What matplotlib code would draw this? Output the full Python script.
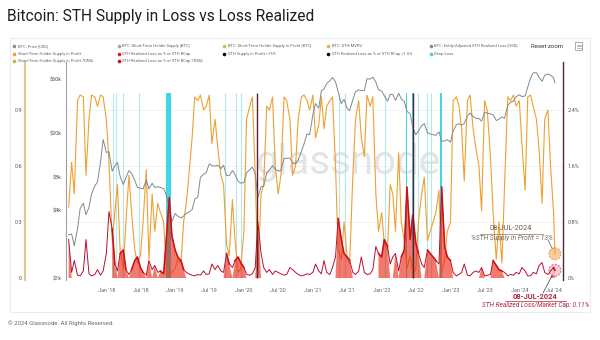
import matplotlib
matplotlib.use('Agg')
import matplotlib.pyplot as plt
import matplotlib.dates as mdates
import matplotlib.transforms as mtransforms
from matplotlib.patches import Circle, Rectangle
from matplotlib.lines import Line2D
import numpy as np
import pandas as pd

plt.rcParams['font.family'] = ['Roboto', 'DejaVu Sans']

# semi-monthly samples (1st / 15th), Jun 2017 -> Jul 2024, plus the 8 Jul 2024 reading
dates = list(pd.date_range('2017-06-15', '2024-07-01', freq='SMS')) + [pd.Timestamp('2024-07-08')]

price_usd = [
    2450, 2480, 1950, 2750, 4200, 4700, 3700, 4300, 5700, 6700, 7300, 10900, 17500,
    13400, 13600, 9100, 10100, 10900, 8200, 6900, 8000, 9200, 8700, 7500, 6500,
    6400, 6300, 7600, 6300, 7100, 6500, 6600, 6500, 6350, 5600, 4200, 3200,
    3800, 3600, 3450, 3600, 3800, 3900, 4100, 5100, 5300, 8000, 8550, 8800,
    10600, 10200, 10100, 10300, 9600, 10300, 8300, 8300, 9200, 8500, 7400, 7100,
    7200, 8800, 9400, 9900, 8600, 5300, 6600, 6650, 8800, 9300, 10200, 9450,
    9150, 9200, 11800, 11900, 11900, 10800, 10600, 11500, 13700, 16000, 19700, 19300,
    29400, 36800, 33500, 48000, 49600, 55900, 59000, 63200, 57800, 46800, 36700, 40200,
    33500, 31800, 39900, 47000, 48800, 48100, 48200, 61500, 61000, 63600, 57200, 48900,
    47700, 43100, 38700, 44500, 44400, 39300, 45500, 40500, 38500, 31300, 29800, 22500,
    19300, 20800, 23300, 24300, 20100, 19700, 19300, 19100, 20500, 16900, 17000, 17400,
    16600, 20900, 23700, 24300, 23600, 24400, 28500, 30300, 28100, 27200, 27000, 25600,
    30600, 30300, 29700, 29200, 25900, 26600, 27900, 27100, 35400, 37900, 38700, 42300,
    44200, 42500, 43100, 51900, 62400, 69400, 69600, 63400, 58300, 66200, 67800, 66200,
    62700, 56700,
]

sth_supply_in_profit = [
    0.38, 0.62, 0.45, 0.95, 0.98, 0.97, 0.55, 0.85, 0.98, 0.97, 0.92, 0.98, 0.97,
    0.85, 0.62, 0.20, 0.35, 0.50, 0.15, 0.05, 0.30, 0.55, 0.35, 0.15, 0.08,
    0.12, 0.30, 0.58, 0.10, 0.45, 0.25, 0.40, 0.35, 0.30, 0.05, 0.02, 0.03,
    0.05, 0.10, 0.08, 0.30, 0.40, 0.55, 0.75, 0.97, 0.95, 0.98, 0.90, 0.92,
    0.98, 0.72, 0.85, 0.70, 0.55, 0.50, 0.18, 0.12, 0.42, 0.20, 0.03, 0.05,
    0.25, 0.85, 0.92, 0.97, 0.55, 0.02, 0.45, 0.50, 0.92, 0.90, 0.97, 0.60,
    0.45, 0.55, 0.97, 0.95, 0.85, 0.55, 0.60, 0.85, 0.97, 0.98, 0.95, 0.90,
    0.98, 0.75, 0.82, 0.97, 0.80, 0.92, 0.95, 0.97, 0.60, 0.15, 0.10, 0.30,
    0.12, 0.08, 0.55, 0.85, 0.95, 0.75, 0.65, 0.98, 0.92, 0.97, 0.45, 0.25,
    0.35, 0.18, 0.15, 0.50, 0.45, 0.25, 0.67, 0.30, 0.20, 0.05, 0.12, 0.02,
    0.05, 0.30, 0.45, 0.54, 0.20, 0.25, 0.30, 0.35, 0.47, 0.03, 0.10, 0.25,
    0.30, 0.95, 0.97, 0.92, 0.80, 0.52, 0.95, 0.98, 0.80, 0.70, 0.60, 0.36,
    0.95, 0.90, 0.65, 0.35, 0.10, 0.30, 0.08, 0.50, 0.97, 0.95, 0.98, 0.92,
    0.95, 0.72, 0.47, 0.97, 0.98, 0.92, 0.85, 0.69, 0.40, 0.85, 0.90, 0.60,
    0.35, 0.13,
]

sth_realized_loss_pct = [
    0.55, 0.08, 0.25, 0.04, 0.03, 0.10, 0.55, 0.06, 0.03, 0.05, 0.12, 0.04, 0.10,
    0.35, 0.95, 0.70, 0.20, 0.10, 0.35, 0.40, 0.12, 0.05, 0.12, 0.25, 0.30,
    0.15, 0.08, 0.04, 0.25, 0.12, 0.18, 0.08, 0.10, 0.06, 0.55, 1.15, 0.60,
    0.40, 0.30, 0.25, 0.12, 0.08, 0.06, 0.04, 0.03, 0.05, 0.04, 0.10, 0.05,
    0.06, 0.20, 0.12, 0.18, 0.10, 0.08, 0.35, 0.20, 0.15, 0.25, 0.30, 0.22,
    0.15, 0.05, 0.04, 0.06, 0.15, 0.80, 0.35, 0.15, 0.08, 0.12, 0.05, 0.10,
    0.08, 0.06, 0.04, 0.05, 0.15, 0.12, 0.08, 0.05, 0.03, 0.04, 0.06, 0.05,
    0.08, 0.20, 0.10, 0.06, 0.25, 0.08, 0.05, 0.15, 0.30, 0.85, 0.55, 0.35,
    0.30, 0.25, 0.08, 0.05, 0.10, 0.30, 0.08, 0.05, 0.06, 0.12, 0.45, 0.35,
    0.30, 0.55, 0.45, 0.20, 0.30, 0.35, 0.10, 0.30, 0.40, 1.30, 0.55, 0.90,
    0.50, 0.35, 0.20, 0.15, 0.40, 0.35, 0.30, 0.25, 0.20, 1.30, 0.45, 0.30,
    0.25, 0.08, 0.03, 0.05, 0.08, 0.20, 0.04, 0.03, 0.08, 0.10, 0.08, 0.15,
    0.03, 0.04, 0.05, 0.25, 0.18, 0.12, 0.10, 0.08, 0.03, 0.05, 0.04, 0.08,
    0.06, 0.15, 0.10, 0.03, 0.03, 0.08, 0.06, 0.18, 0.22, 0.08, 0.05, 0.10,
    0.15, 0.11,
]

# single-day capitulation spikes of realized loss
capitulation_days = ['2020-03-12', '2022-06-18']
capitulation_loss_pct = [2.64, 2.64]

# "Deep Loss" flags
deep_loss_days = ['2018-02-05', '2018-02-22', '2018-03-29', '2018-06-24', '2019-09-24',
                  '2019-11-21', '2019-12-17', '2021-05-19', '2021-06-21', '2022-01-21',
                  '2022-07-13', '2022-08-28', '2022-09-21']
deep_loss_spans = [('2018-11-14', '2018-12-12'), ('2022-05-09', '2022-05-14'),
                   ('2022-06-13', '2022-06-19'), ('2022-11-08', '2022-11-16')]

supply_ticks = [0, 0.3, 0.6, 0.9]
price_ticks = [1000, 4000, 8000, 20000, 60000]
price_tick_labels = ['$1k', '$4k', '$8k', '$20k', '$60k']
loss_ticks = [0, 0.8, 1.6, 2.4]
x_ticks = pd.date_range('2018-01-01', '2024-07-01', freq='6MS')

legend_rows = [
    [('BTC: Price [USD]', '#8c8c8c'), ('BTC: Short-Term Holder Supply [BTC]', '#b89aa0'),
     ('BTC: Short-Term Holder Supply in Profit [BTC]', '#d9b84a'), ('BTC: STH-MVRV', '#d9b84a'),
     ('BTC: Entity-Adjusted STH Realized Loss [USD]', '#8c8c8c')],
    [('Short-Term Holder Supply in Profit', '#f0a030'), ('STH Realized Loss as % of STH RCap', '#e0201a'),
     ('STH Supply in Profit <15%', '#111111'), ('STH Realized Loss as % of STH RCap >1.5%', '#111111'),
     ('Deep Loss', '#40d0e0')],
    [('Short-Term Holder Supply in Profit 7DMA', '#c8b050'), ('STH Realized Loss as % of STH RCap 7DMA', '#c0103a')],
]

W, H = 600, 340


def fx(x):
    return x / W


def fy(y):
    return 1 - y / H


fig = plt.figure(figsize=(6, 3.4), dpi=100)
fig.patch.set_facecolor('white')

fig.add_artist(Rectangle((fx(10), fy(312)), 580 / W, 274 / H, transform=fig.transFigure,
                         fill=False, edgecolor='#ececec', lw=0.8))

fig.text(fx(7), fy(17), 'Bitcoin: STH Supply in Loss vs Loss Realized', fontsize=11.2,
         color='#1e1e1e', va='center', ha='left')
fig.text(fx(8), fy(323), '\u00a9 2024 Glassnode. All Rights Reserved.', fontsize=4.3,
         color='#666666', va='center', ha='left')

# legend
col_x = [14, 119, 224, 328, 431]
row_y = [46, 53.5, 61]
for r, row in enumerate(legend_rows):
    for c, (label, color) in enumerate(row):
        fig.add_artist(Line2D([fx(col_x[c])], [fy(row_y[r])], marker='o', ms=1.6, color=color,
                              lw=0, transform=fig.transFigure))
        fig.text(fx(col_x[c] + 3.5), fy(row_y[r]), label, fontsize=3.0, color='#666666',
                 va='center', ha='left')

fig.text(fx(547), fy(46), 'Reset zoom', fontsize=4.4, color='#333333', ha='center', va='center')
fig.add_artist(Rectangle((fx(575), fy(49.5)), 7 / W, 7 / H, transform=fig.transFigure,
                         fill=False, edgecolor='#888888', lw=0.5))
for yy in (44.5, 46, 47.5):
    fig.add_artist(Line2D([fx(576.5), fx(580.5)], [fy(yy), fy(yy)], color='#888888', lw=0.4,
                          transform=fig.transFigure))

# axes: base (flags, grid), supply (left outer), price (left), loss (right)
ax = fig.add_axes([fx(66), fy(280), 497 / W, 218 / H])
ax_sup = ax.twinx()
ax_price = ax.twinx()
ax_loss = ax.twinx()

sup_lim = (-2 / 186.7, 216 / 186.7)
ax.set_ylim(*sup_lim)
ax_sup.set_ylim(*sup_lim)
ax_price.set_yscale('log')
ax_price.set_ylim(10 ** (3 - 2 / 111.4), 10 ** (3 + 216 / 111.4))
ax_loss.set_ylim(-2 / 70, 216 / 70)
ax.set_xlim(pd.Timestamp('2017-06-01'), pd.Timestamp('2024-08-20'))

for a in (ax, ax_sup, ax_price, ax_loss):
    for s in a.spines.values():
        s.set_visible(False)
    a.tick_params(length=0, labelsize=4, labelcolor='#555555')

ax.set_yticks([])
ax.set_xticks(x_ticks)
ax.xaxis.set_major_formatter(mdates.DateFormatter("%b '%y"))
ax.tick_params(axis='x', pad=6, labelsize=4, labelcolor='#666666')

for v in (0.3, 0.6, 0.9):
    ax.axhline(v, color='#f0f0f0', lw=0.6, zorder=0)

ax.text(0.567, 0.537, 'glassnode', transform=ax.transAxes, fontsize=29, color='#d9d9d9',
        alpha=0.7, ha='center', va='center', zorder=0)


def frac(v):
    return (v - sup_lim[0]) / (sup_lim[1] - sup_lim[0])


ax.vlines(pd.to_datetime(deep_loss_days), 0, 0.99, color='#b5e7ef', lw=0.8, zorder=1)
for start, end in deep_loss_spans:
    ax.axvspan(pd.Timestamp(start), pd.Timestamp(end), ymin=frac(0), ymax=frac(0.99),
               color='#3fd6e8', lw=0, zorder=1)

# supply in profit
ax_sup.yaxis.tick_left()
ax_sup.spines['left'].set_visible(True)
ax_sup.spines['left'].set_position(('outward', 41 * 0.72))
ax_sup.spines['left'].set_color('#dccb8e')
ax_sup.spines['left'].set_linewidth(1.6)
ax_sup.set_yticks(supply_ticks)
ax_sup.set_yticklabels(['0', '0.3', '0.6', '0.9'])
ax_sup.tick_params(axis='y', pad=2.2)
ax_sup.plot(dates, sth_supply_in_profit, color='#f0a030', lw=0.8)

# price
ax_price.yaxis.tick_left()
ax_price.spines['left'].set_visible(True)
ax_price.spines['left'].set_color('#9aa2a5')
ax_price.spines['left'].set_linewidth(0.8)
ax_price.set_yticks(price_ticks)
ax_price.set_yticklabels(price_tick_labels)
ax_price.yaxis.set_minor_locator(matplotlib.ticker.NullLocator())
ax_price.tick_params(axis='y', pad=3)
ax_price.plot(dates, price_usd, color='#7d8b8f', lw=0.7)

# realized loss
ax_loss.spines['right'].set_visible(True)
ax_loss.spines['right'].set_color('#4a2a3a')
ax_loss.spines['right'].set_linewidth(1.0)
ax_loss.set_yticks(loss_ticks)
ax_loss.set_yticklabels(['0%', '0.8%', '1.6%', '2.4%'])
ax_loss.tick_params(axis='y', pad=3.5)
in_loss = np.array(sth_supply_in_profit) < 0.4
ax_loss.fill_between(dates, 0, sth_realized_loss_pct, where=in_loss, interpolate=True,
                     color='#e8200c', lw=0, alpha=0.6)
loss_arr = np.array(sth_realized_loss_pct)
ax_loss.plot(dates, np.where(in_loss, loss_arr, np.nan), color='#ee2a10', lw=1.2)
ax_loss.plot(dates, sth_realized_loss_pct, color='#b8102e', lw=0.7)
ax_loss.vlines(pd.to_datetime(capitulation_days), 0, capitulation_loss_pct, color='#5a2038', lw=1.0)

# latest-reading callouts
last_day = dates[-1]


def ring(axis, value, edge, face):
    t = fig.dpi_scale_trans + mtransforms.ScaledTranslation(
        mdates.date2num(last_day), value, axis.transData)
    axis.add_artist(Circle((0, 0), 0.06, transform=t, facecolor=face, edgecolor=edge,
                           ls=(0, (2, 1.5)), lw=0.7, alpha=0.8, clip_on=False))


ring(ax_sup, sth_supply_in_profit[-1], '#d98a2a', '#f7c08a')
ring(ax_loss, sth_realized_loss_pct[-1], '#c8405e', '#f6c2cf')

ax_sup.annotate('', xy=(last_day, sth_supply_in_profit[-1]), xytext=(548, H - 240),
                textcoords='figure pixels',
                arrowprops=dict(arrowstyle='-', color='#6b5a48', lw=0.5, shrinkA=0, shrinkB=4))
fig.text(fx(511), fy(229), '08-JUL-2024', fontsize=5.4, color='#6b5a48', ha='center', va='center')
fig.add_artist(Line2D([fx(480), fx(543)], [fy(233.5), fy(233.5)], color='#8a7a68', lw=0.5,
                      transform=fig.transFigure))
fig.text(fx(512), fy(237.5), '%STH Supply in Profit = 13%', fontsize=4.9, style='italic',
         color='#7a6a58', ha='center', va='center')

ax_loss.annotate('', xy=(last_day, sth_realized_loss_pct[-1]), xytext=(543, H - 293),
                 textcoords='figure pixels',
                 arrowprops=dict(arrowstyle='-', color='#333333', lw=0.5, shrinkA=0, shrinkB=4))
fig.text(fx(535), fy(297), '08-JUL-2024', fontsize=5.4, fontweight='bold', color='#b0283c',
         ha='center', va='center')
fig.add_artist(Line2D([fx(505), fx(566)], [fy(301), fy(301)], color='#b0283c', lw=0.5,
                      transform=fig.transFigure))
fig.text(fx(536), fy(305), 'STH Realized Loss/Market Cap: 0.11%', fontsize=4.7, style='italic',
         color='#b0283c', ha='center', va='center')

fig.savefig('out.png', dpi=100)
